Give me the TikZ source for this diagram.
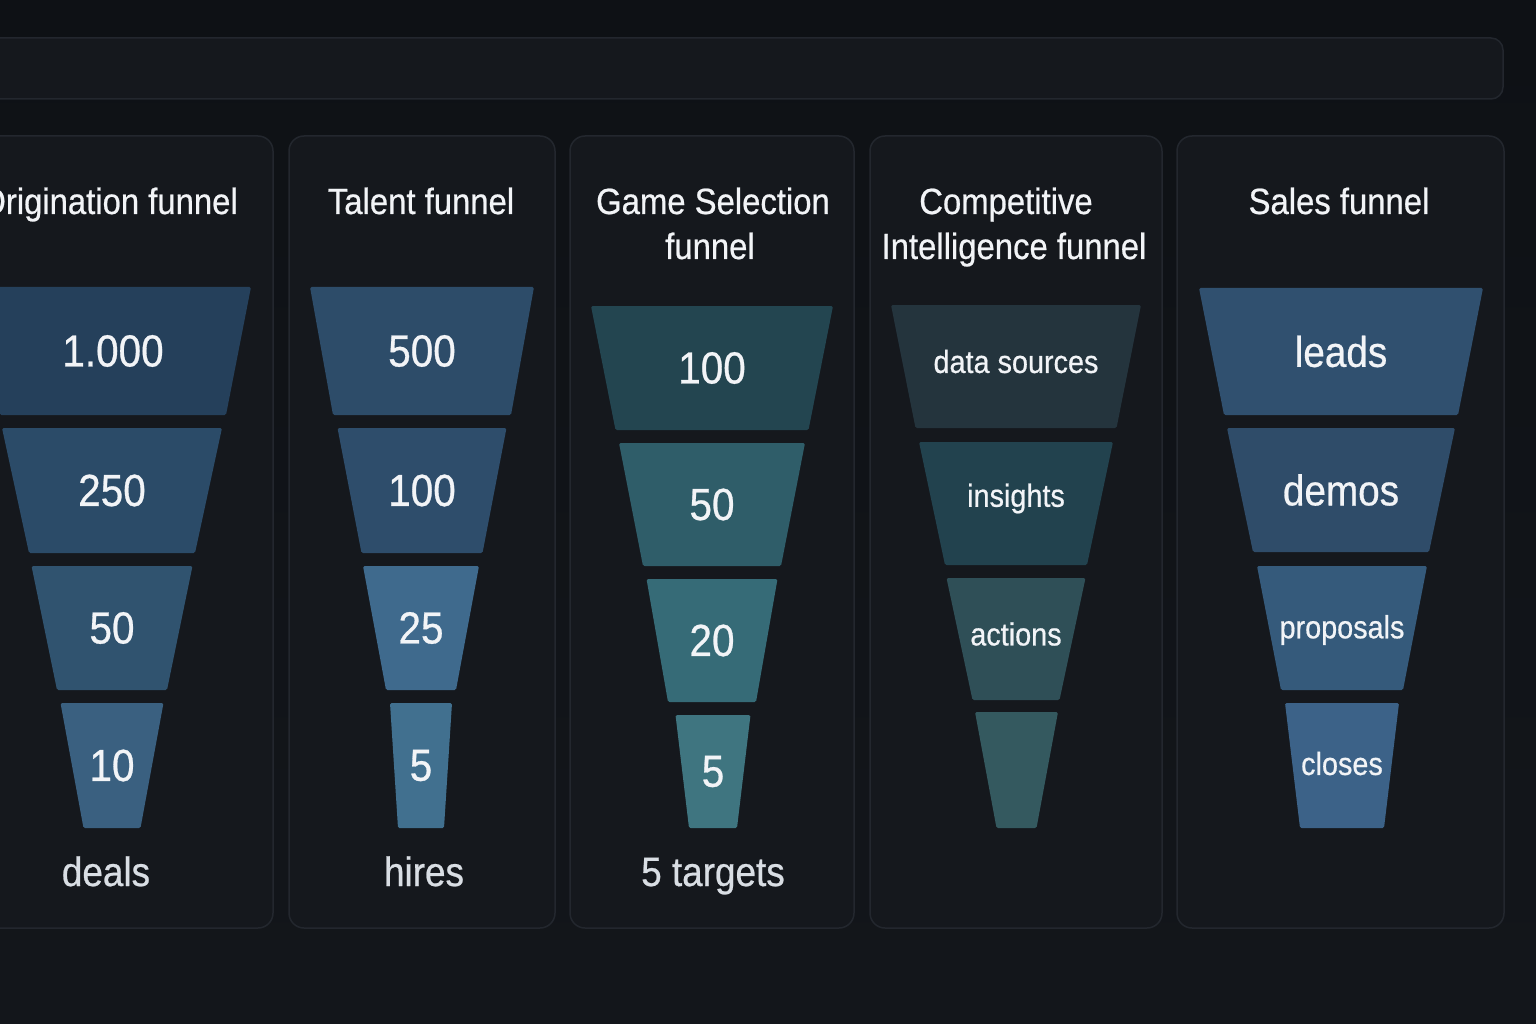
\documentclass[tikz,border=0pt]{standalone}
\usepackage{fontspec}
\setmainfont[FakeStretch=0.9, FakeBold=0.6]{Liberation Sans}
\definecolor{bgtop}{HTML}{0E1115}
\definecolor{bgbot}{HTML}{13161B}
\definecolor{panelfill}{HTML}{15181D}
\definecolor{panelline}{HTML}{23272E}
\definecolor{txt}{HTML}{F2F4F7}
\definecolor{subtxt}{HTML}{D9DEE4}
\definecolor{o1}{HTML}{25405B}\definecolor{o2}{HTML}{2B4B68}\definecolor{o3}{HTML}{30536F}\definecolor{o4}{HTML}{3A6080}
\definecolor{t1}{HTML}{2D4C69}\definecolor{t2}{HTML}{2E4D6B}\definecolor{t3}{HTML}{3F6A8D}\definecolor{t4}{HTML}{41708F}
\definecolor{g1}{HTML}{234550}\definecolor{g2}{HTML}{2F5D69}\definecolor{g3}{HTML}{366B77}\definecolor{g4}{HTML}{3F7580}
\definecolor{c1}{HTML}{24343D}\definecolor{c2}{HTML}{22424E}\definecolor{c3}{HTML}{2F4F57}\definecolor{c4}{HTML}{34595F}
\definecolor{s1}{HTML}{30506F}\definecolor{s2}{HTML}{2F4C69}\definecolor{s3}{HTML}{355A7B}\definecolor{s4}{HTML}{3C6288}
% #1 name, #2 cx, #3 ytop, #4 ybot, #5 half top, #6 half bottom, #7 colour, #8 text style, #9 text
\newcommand{\fseg}[9]{%
  \fill[#7, rounded corners=1.5pt] ({#2-#5},#3) -- ({#2+#5},#3) -- ({#2+#6},#4) -- ({#2-#6},#4) -- cycle;
  \node[#8] (#1) at (#2,{(#3+#4)/2}) {#9};}
\begin{document}
\begin{tikzpicture}[x=1pt,y=-1pt,
  panel/.style={fill=panelfill, draw=panelline, line width=1.5pt, rounded corners=15pt},
  title/.style={text=txt, align=center, inner sep=0pt, font=\fontsize{36.5}{45}\selectfont},
  num/.style={text=txt, inner sep=0pt, font=\fontsize{45}{50}\selectfont},
  big/.style={text=txt, inner sep=0pt, font=\fontsize{43}{48}\selectfont},
  small/.style={text=txt, inner sep=0pt, font=\fontsize{32}{36}\selectfont},
  foot/.style={text=subtxt, inner sep=0pt, anchor=base, font=\fontsize{41}{46}\selectfont}]
\useasboundingbox (0,0) rectangle (1536,1024);
\shade[top color=bgtop, bottom color=bgbot] (0,0) rectangle (1536,1024);
% top bar
\draw[panel, rounded corners=12pt] (-40,38) rectangle (1503,99);
% panels
\draw[panel] (-40,136) rectangle (273,928);
\draw[panel] (289,136) rectangle (555,928);
\draw[panel] (570,136) rectangle (854,928);
\draw[panel] (870,136) rectangle (1162,928);
\draw[panel] (1177,136) rectangle (1504,928);
% titles
\node[title, anchor=base east] (ti1) at (238,214) {Origination funnel};
\node[title, anchor=base] (ti2) at (421,214) {Talent funnel};
\node[title, anchor=base] (ti3) at (713,214) {Game Selection};
\node[title, anchor=base] (ti3b) at (710,259) {funnel};
\node[title, anchor=base] (ti4) at (1006,214) {Competitive};
\node[title, anchor=base] (ti4b) at (1014,259) {Intelligence funnel};
\node[title, anchor=base] (ti5) at (1339,214) {Sales funnel};
% Origination funnel
\fseg{o1n}{113}{287}{415}{138}{113}{o1}{num}{1.000}
\fseg{o2n}{112}{428}{553}{110}{83}{o2}{num}{250}
\fseg{o3n}{112}{566}{690}{80.5}{55}{o3}{num}{50}
\fseg{o4n}{112}{703}{828}{51.5}{28.5}{o4}{num}{10}
\node[foot] (of) at (106,886) {deals};
% Talent funnel
\fseg{t1n}{422}{287}{415}{112}{89}{t1}{num}{500}
\fseg{t2n}{422}{428}{553}{84.5}{60.5}{t2}{num}{100}
\fseg{t3n}{421}{566}{690}{58}{35}{t3}{num}{25}
\fseg{t4n}{421}{703}{828}{31}{23}{t4}{num}{5}
\node[foot] (tf) at (424,886) {hires};
% Game Selection funnel
\fseg{g1n}{712}{306}{430}{121}{96.5}{g1}{num}{100}
\fseg{g2n}{712}{443}{566}{93}{69}{g2}{num}{50}
\fseg{g3n}{712}{579}{702}{65.5}{44}{g3}{num}{20}
\fseg{g4n}{713}{715}{828}{37.5}{24}{g4}{num}{5}
\node[foot] (gf) at (713,886) {5 targets};
% Competitive Intelligence funnel
\fseg{c1n}{1016}{305}{428}{125}{100.5}{c1}{small, yshift=5pt}{data sources}
\fseg{c2n}{1016}{442}{565}{97}{71}{c2}{small, yshift=5pt}{insights}
\fseg{c3n}{1016}{578}{700}{69.5}{43.5}{c3}{small, yshift=5pt}{actions}
\fseg{c4n}{1016.5}{712}{828}{41.5}{20}{c4}{small}{}
% Sales funnel
\fseg{s1n}{1341}{288}{415}{142}{117}{s1}{big}{leads}
\fseg{s2n}{1341}{428}{552}{114}{88}{s2}{big}{demos}
\fseg{s3n}{1342}{566}{690}{85}{61}{s3}{small, yshift=-2pt}{proposals}
\fseg{s4n}{1342}{703}{828}{57}{42}{s4}{small, yshift=2pt}{closes}
\end{tikzpicture}
\end{document}
